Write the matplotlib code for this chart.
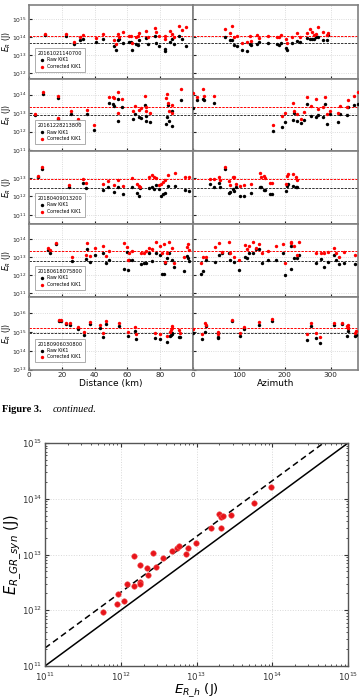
import matplotlib.pyplot as plt
import numpy as np

events = ["20161021140700", "20161228213800", "20180409013200",
          "20180618075800", "20180906030800"]

# energies are log10(J)
# event 1 - distance panel
d1 = [9.7, 22.4, 27.2, 30.9, 32.9, 41.0, 45.0, 52.1, 53.1, 54.1, 55.1, 57.1, 60.8, 62.2, 62.8, 65.2,
      66.2, 67.2, 71.3, 72.3, 76.9, 77.3, 79.4, 82.8, 82.8, 85.8, 87.0, 88.5, 91.5, 93.5, 95.5]
d1_raw = [14.14, 14.08, 13.60, 13.86, 13.91, 13.71, 13.91, 13.52, 13.30, 13.82, 13.89, 13.67, 13.71, 13.71,
          13.30, 13.64, 13.58, 13.82, 13.95, 13.64, 14.08, 13.67, 13.52, 13.34, 13.21, 13.71, 13.89,
          13.64, 14.08, 13.89, 13.52]
d1_cor = [14.19, 14.17, 13.73, 13.99, 14.10, 13.95, 14.17, 13.82, 13.64, 14.17, 14.04, 14.27, 14.08, 14.08,
          13.67, 14.04, 14.08, 14.23, 14.36, 14.01, 14.51, 14.27, 14.08, 14.08, 13.89, 14.36, 14.17,
          13.99, 14.65, 14.38, 14.56]
# event 1 - azimuth panel
a1 = [70.3, 81.3, 85.0, 88.6, 96.0, 107.0, 118.0, 124.0, 126.7, 140.0, 143.6, 163.3, 182.4, 187.5, 191.2,
      202.0, 204.4, 216.8, 226.4, 233.7, 249.8, 255.7, 258.6, 263.0, 268.0, 273.2, 282.8, 292.3, 295.2]
a1_raw = [14.04, 13.86, 13.82, 13.58, 13.49, 13.30, 13.21, 13.62, 13.54, 13.64, 13.71, 13.67, 13.64, 13.58,
          13.67, 13.39, 13.30, 13.67, 13.77, 13.71, 13.95, 13.89, 13.89, 13.89, 14.01, 14.01, 13.86,
          13.82, 14.14]
a1_cor = [14.47, 14.23, 14.65, 14.04, 14.08, 13.67, 13.71, 14.08, 13.77, 14.10, 13.95, 14.08, 13.99, 14.04,
          14.14, 13.89, 13.67, 14.01, 14.23, 14.04, 14.23, 14.45, 14.28, 14.14, 14.19, 14.60, 14.32,
          14.14, 14.23]

# event 2
d2 = [3.6, 8.3, 17.8, 17.8, 25.8, 29.9, 35.3, 39.4, 48.7, 51.1, 52.1, 54.5, 54.5, 56.7, 63.2, 64.8, 67.2,
      68.3, 70.9, 71.3, 71.5, 73.7, 83.4, 84.4, 85.0, 85.4, 87.0, 87.4, 92.5]
d2_raw = [12.88, 14.06, 13.82, 12.67, 12.95, 12.49, 12.96, 12.09, 13.54, 13.51, 13.40, 13.76, 12.60, 13.36,
          12.67, 12.96, 12.78, 12.73, 13.45, 12.85, 12.60, 12.51, 12.42, 12.78, 13.45, 12.55, 12.31,
          13.09, 13.73]
d2_cor = [12.93, 14.13, 13.91, 12.73, 13.13, 12.67, 13.18, 12.36, 13.87, 13.87, 13.82, 14.15, 13.00, 13.76,
          13.09, 13.40, 13.15, 13.27, 13.95, 13.33, 13.09, 13.00, 13.82, 14.05, 13.55, 13.09, 13.00,
          13.45, 14.31]
a2 = [0.7, 9.5, 22.7, 24.2, 46.1, 175.0, 194.8, 200.0, 219.0, 219.5, 226.4, 235.1, 242.5, 248.3, 257.1,
      268.1, 273.2, 282.8, 287.9, 292.3, 299.6, 315.7, 321.6, 336.2, 339.2, 350.9, 359.0]
a2_raw = [13.27, 13.69, 13.78, 13.69, 13.55, 12.05, 12.27, 12.51, 12.64, 13.00, 12.60, 12.45, 12.64, 13.51,
          12.85, 12.78, 12.91, 12.78, 13.51, 12.40, 12.96, 12.51, 12.96, 12.91, 13.36, 13.45, 13.51]
a2_cor = [14.09, 13.87, 14.31, 13.95, 13.91, 12.36, 12.85, 13.00, 13.55, 13.09, 12.96, 12.67, 13.05, 13.87,
          13.40, 13.76, 13.22, 13.36, 13.87, 12.96, 13.09, 13.00, 13.40, 13.36, 13.73, 13.95, 14.13]

# event 3
d3 = [5.6, 7.7, 24.4, 32.9, 34.5, 45.4, 48.1, 52.1, 54.1, 57.5, 62.8, 65.6, 67.2, 67.6, 72.9, 74.9, 76.3,
      77.3, 79.0, 80.4, 81.8, 83.0, 85.0, 89.1, 95.1, 97.5]
d3_raw = [13.04, 13.47, 12.50, 12.71, 12.48, 12.35, 12.50, 12.26, 12.50, 12.12, 12.50, 12.17, 12.03, 12.44,
          12.44, 12.53, 12.39, 12.62, 12.39, 12.03, 12.12, 12.17, 12.57, 12.57, 12.35, 12.32]
d3_cor = [13.11, 13.58, 12.62, 12.93, 12.75, 12.68, 12.86, 12.62, 12.89, 12.57, 12.98, 12.68, 12.57, 12.53,
          13.04, 13.16, 13.07, 12.98, 12.62, 12.68, 12.80, 12.89, 13.16, 13.25, 13.07, 13.07]
a3 = [37.3, 46.1, 57.8, 58.5, 70.3, 77.6, 81.3, 87.1, 90.1, 94.5, 103.3, 112.0, 126.7, 145.8, 148.7, 154.6,
      156.0, 167.7, 172.9, 202.2, 204.4, 207.3, 219.0, 224.1, 226.4]
a3_raw = [12.68, 12.50, 12.75, 12.50, 13.47, 12.21, 12.26, 12.39, 12.32, 12.50, 12.03, 12.03, 12.17, 12.53,
          12.50, 12.35, 12.35, 12.14, 12.14, 12.32, 12.57, 12.68, 12.57, 12.50, 12.53]
a3_cor = [12.93, 12.93, 13.07, 12.89, 13.58, 12.86, 12.62, 13.04, 13.04, 12.68, 12.57, 12.62, 12.68, 13.25,
          13.04, 13.11, 12.98, 12.75, 12.75, 12.68, 13.11, 13.22, 13.22, 13.04, 12.89]

# event 4
d4 = [11.7, 12.7, 16.3, 26.4, 34.9, 35.3, 37.3, 40.0, 45.0, 47.0, 48.7, 58.2, 59.6, 60.2, 60.8, 62.8,
      68.3, 70.3, 71.3, 72.9, 74.9, 77.3, 79.8, 81.4, 82.4, 83.0, 84.4, 85.4, 87.4, 88.4, 94.5, 96.5,
      97.1, 97.5]
d4_raw = [13.39, 13.24, 13.72, 12.80, 12.87, 13.44, 12.74, 13.11, 13.24, 12.65, 12.83, 12.31, 13.30, 12.28,
          12.83, 12.83, 12.61, 12.65, 12.69, 13.20, 12.80, 13.24, 13.11, 12.06, 12.06, 12.65, 12.93,
          13.24, 12.83, 12.46, 12.24, 13.06, 12.93, 12.80]
d4_cor = [13.48, 13.39, 13.80, 12.98, 13.11, 13.76, 13.06, 13.48, 13.61, 13.06, 13.35, 13.76, 13.57, 12.83,
          13.24, 13.35, 13.20, 13.24, 13.35, 13.48, 13.43, 13.85, 13.61, 13.20, 13.72, 12.74, 13.20,
          13.85, 13.48, 12.69, 13.02, 13.57, 13.72, 13.39]
a4 = [16.8, 22.7, 28.5, 48.3, 57.8, 63.0, 77.6, 81.3, 88.6, 99.6, 114.3, 117.9, 121.6, 131.1, 138.4, 143.6,
      150.9, 163.3, 180.2, 197.0, 200.0, 213.2, 214.6, 220.5, 226.4, 231.5, 268.1, 279.1, 285.0, 293.7,
      308.4, 312.1, 319.4, 330.4, 353.8]
a4_raw = [12.06, 12.24, 12.83, 12.74, 13.11, 13.20, 13.20, 12.83, 12.74, 12.28, 12.98, 12.93, 13.20, 13.20,
          13.43, 13.43, 12.65, 12.83, 12.83, 13.20, 12.00, 12.31, 13.61, 12.93, 12.93, 13.11, 12.65,
          12.87, 12.46, 12.74, 13.11, 12.83, 12.61, 12.65, 12.61]
a4_cor = [12.69, 13.02, 12.98, 13.54, 13.76, 13.30, 13.85, 13.24, 13.02, 12.83, 13.67, 13.43, 13.61, 13.85,
          13.48, 13.72, 13.24, 13.35, 13.61, 13.72, 12.69, 13.85, 13.79, 13.61, 13.11, 13.85, 13.24,
          13.24, 13.20, 13.30, 13.48, 13.24, 12.98, 13.30, 13.11]

# event 5
d5 = [18.4, 19.8, 22.4, 25.2, 29.9, 33.3, 37.0, 43.4, 45.4, 47.0, 55.1, 60.2, 64.8, 65.2, 76.9, 79.8,
      84.4, 85.8, 86.4, 87.0, 87.4, 91.5, 91.9]
d5_raw = [15.60, 15.60, 15.44, 15.40, 15.15, 14.85, 15.44, 15.21, 14.76, 15.44, 15.33, 14.81, 15.08, 14.63,
          14.69, 14.62, 14.45, 14.79, 14.85, 14.97, 14.90, 14.76, 14.72]
d5_cor = [15.65, 15.65, 15.47, 15.47, 15.29, 15.03, 15.53, 15.38, 14.94, 15.60, 15.51, 15.03, 15.29, 14.90,
          14.94, 14.90, 14.79, 15.03, 15.12, 15.33, 15.20, 15.12, 14.97]
a5 = [0.7, 19.0, 26.3, 28.5, 53.5, 55.6, 85.0, 101.8, 110.6, 143.6, 172.9, 249.8, 257.1, 268.1, 277.6,
      306.9, 324.5, 336.2, 337.7, 339.2, 352.4, 356.0]
a5_raw = [14.94, 14.62, 15.03, 15.33, 14.67, 14.76, 15.60, 14.79, 15.15, 15.38, 15.60, 14.58, 15.33, 14.67,
          14.44, 15.38, 15.42, 14.79, 15.08, 15.21, 14.79, 14.85]
a5_cor = [15.15, 14.90, 15.47, 15.38, 15.03, 14.90, 15.65, 14.97, 15.29, 15.56, 15.69, 14.90, 15.51, 14.97,
          14.76, 15.51, 15.47, 15.33, 15.20, 15.38, 14.97, 15.08]

raw_mean = [13.69, 12.89, 12.48, 12.80, 14.97]
cor_mean = [14.06, 13.31, 12.95, 13.35, 15.21]
ylims = [(11.67, 15.8), (10.95, 14.85), (10.51, 14.46), (10.78, 14.83), (13.0, 16.88)]
yticks = [[12, 13, 14, 15], [11, 12, 13, 14], [11, 12, 13], [11, 12, 13, 14], [13, 14, 15, 16]]

# second figure: E_R_h vs E_R_GR_syn (log10 J)
er_h = [12.18, 12.25, 12.34, 12.42, 12.47, 12.56, 12.67, 12.74, 12.77, 12.86, 12.89, 12.99, 13.19, 13.30,
        13.32, 13.33, 13.35, 13.46, 13.76, 13.99, 11.76, 11.95, 11.97, 12.04, 12.08, 12.18, 12.25, 12.25,
        12.36]
er_syn = [12.97, 12.81, 12.75, 13.03, 12.77, 12.93, 13.06, 13.11, 13.15, 13.01, 13.11, 13.20, 13.48, 13.73,
          13.48, 13.67, 13.69, 13.71, 13.92, 14.21, 11.96, 12.12, 12.30, 12.17, 12.47, 12.43, 12.51, 12.47,
          12.63]

dist = [d1, d2, d3, d4, d5]
dist_raw = [d1_raw, d2_raw, d3_raw, d4_raw, d5_raw]
dist_cor = [d1_cor, d2_cor, d3_cor, d4_cor, d5_cor]
azim = [a1, a2, a3, a4, a5]
azim_raw = [a1_raw, a2_raw, a3_raw, a4_raw, a5_raw]
azim_cor = [a1_cor, a2_cor, a3_cor, a4_cor, a5_cor]

W, H = 360, 699
fig = plt.figure(figsize=(W / 100, H / 100), dpi=100)
plt.rcParams['font.family'] = 'DejaVu Sans'

tops = [5, 79, 151, 224, 297, 369.5]
xl, xm, xr = 29, 193, 358


def style_panel(ax):
    for s in ax.spines.values():
        s.set_color('#808080')
        s.set_linewidth(1.2)
    ax.grid(True, color='#d0d0d0', linestyle=':', linewidth=0.6)
    ax.tick_params(direction='in', length=2, labelsize=4.3, colors='#222222', pad=1.5)
    ax.minorticks_off()


def draw(ax, x, raw, cor, mr, mc):
    ax.axhline(10 ** mc, color='red', ls=(0, (2.5, 1.2)), lw=0.7, zorder=2)
    ax.axhline(10 ** mr, color='#333333', ls=(0, (2.5, 1.2)), lw=0.7, zorder=2)
    ax.scatter(x, 10 ** np.array(raw), s=6, c='black', lw=0, label='Raw KiK1', zorder=3)
    ax.scatter(x, 10 ** np.array(cor), s=6, c='red', lw=0, label='Corrected KiK1', zorder=4)


for i in range(5):
    y0 = 1 - tops[i + 1] / H
    hh = (tops[i + 1] - tops[i]) / H
    axL = fig.add_axes([xl / W, y0, (xm - xl) / W, hh])
    axR = fig.add_axes([xm / W, y0, (xr - xm) / W, hh])
    for ax in (axL, axR):
        ax.set_yscale('log')
        ax.set_ylim(10 ** ylims[i][0], 10 ** ylims[i][1])
        ax.set_yticks([10.0 ** k for k in yticks[i]])
        style_panel(ax)
    draw(axL, dist[i], dist_raw[i], dist_cor[i], raw_mean[i], cor_mean[i])
    draw(axR, azim[i], azim_raw[i], azim_cor[i], raw_mean[i], cor_mean[i])
    axL.set_xlim(0, 100)
    axR.set_xlim(0, 360)
    axL.set_xticks([0, 20, 40, 60, 80])
    axR.set_xticks([0, 100, 200, 300])
    axR.set_yticklabels([])
    axL.minorticks_off()
    axR.minorticks_off()
    axL.set_ylabel('$E_R$ (J)', fontsize=5.5)
    axL.yaxis.set_label_coords(-0.098, 0.5)
    if i < 4:
        axL.set_xticklabels([])
        axR.set_xticklabels([])
    else:
        axL.tick_params(axis='x', labelsize=5.2)
        axR.tick_params(axis='x', labelsize=5.2)
        axL.set_xlabel('Distance (km)', fontsize=6.5, labelpad=1)
        axR.set_xlabel('Azimuth', fontsize=6.5, labelpad=1)
    leg = axL.legend(title=events[i], loc='lower left', fontsize=3.3, title_fontsize=3.6,
                     frameon=True, fancybox=False, edgecolor='#888888', borderpad=0.6,
                     handletextpad=0.2, labelspacing=0.3, markerscale=1.0,
                     bbox_to_anchor=(0.02, 0.07))
    leg.get_frame().set_linewidth(0.6)
    leg._legend_box.align = 'left'

fig.text(2 / W, 1 - 409 / H, 'Figure 3.', fontsize=7.5, fontweight='bold',
         family='Liberation Serif', va='center')
fig.text(53 / W, 1 - 409 / H, 'continued.', fontsize=7.5, style='italic',
         family='Liberation Serif', va='center')

# bottom scatter
ax2 = fig.add_axes([45 / W, 1 - 666 / H, 303 / W, 223 / H])
ax2.set_xscale('log')
ax2.set_yscale('log')
ax2.set_xlim(1e11, 1e15)
ax2.set_ylim(1e11, 1e15)
line = np.array([1e11, 1e15])
ax2.plot(line, line, color='black', lw=1.1)
ax2.plot(line, line * 2.1, color='black', lw=1.1, ls=(0, (4, 2.5)))
ax2.scatter(10 ** np.array(er_h), 10 ** np.array(er_syn), s=16, c='#e8141a',
            edgecolors='#f06060', linewidths=0.4, zorder=3)
ax2.grid(True, color='#d8d8d8', linestyle=':', linewidth=0.7)
ax2.tick_params(which='both', direction='in', top=True, right=True, labelsize=6.2,
                colors='#333333')
ax2.tick_params(axis='x', pad=3)
ax2.tick_params(axis='y', pad=2)
ax2.tick_params(which='major', length=3)
ax2.tick_params(which='minor', length=1.5)
for s in ax2.spines.values():
    s.set_color('#555555')
    s.set_linewidth(1.0)
ax2.set_xlabel('$E_{R\\_h}$ (J)', fontsize=9.5, labelpad=-1)
ax2.set_ylabel('$E_{R\\_GR\\_syn}$ (J)', fontsize=10.5)
ax2.yaxis.set_label_coords(-0.07, 0.5)

fig.savefig('out.png', dpi=100)
